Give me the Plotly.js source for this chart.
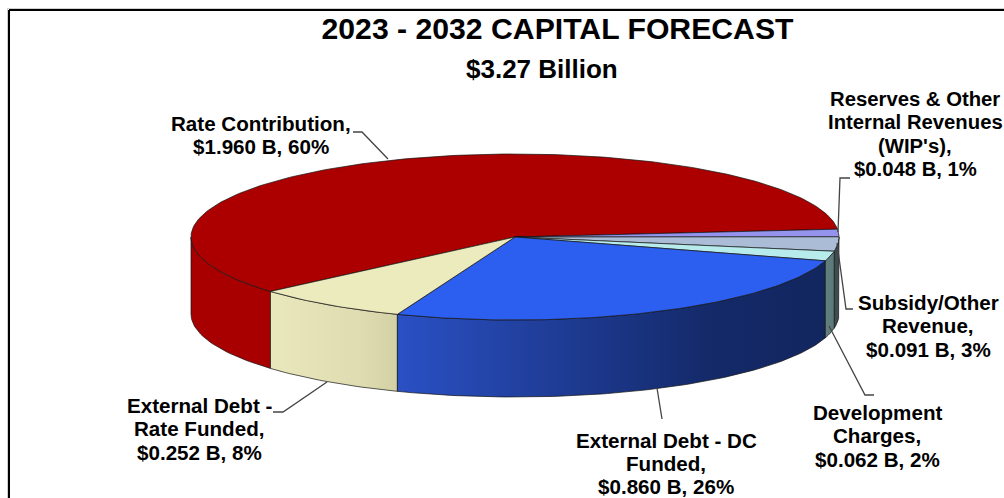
<!DOCTYPE html>
<html><head><meta charset="utf-8">
<script src="https://cdn.plot.ly/plotly-3.0.1.min.js"></script>
<style>html,body{margin:0;padding:0;background:#fff}#c{width:1004px;height:498px}</style>
</head><body><div id="c"></div>
<script>
// Data
const categories = ["External Debt - Rate Funded","External Debt - DC Funded","Development Charges","Subsidy/Other Revenue","Reserves & Other Internal Revenues (WIP's)","Rate Contribution"];
const amounts = [0.252,0.860,0.062,0.091,0.048,1.960];
const labelLines = [
 ["External Debt -","Rate Funded,","$0.252 B, 8%"],
 ["External Debt - DC","Funded,","$0.860 B, 26%"],
 ["Development","Charges,","$0.062 B, 2%"],
 ["Subsidy/Other","Revenue,","$0.091 B, 3%"],
 ["Reserves & Other","Internal Revenues","(WIP's),","$0.048 B, 1%"],
 ["Rate Contribution,","$1.960 B, 60%"]];
const topColors = ["#ecebbd","#2c5ff0","#b8ecec","#aabcd6","#9494ee","#ac0000"];
const sideFrom = ["#e9e8bc","#2a50c4","#627f7f","#3e4c50","#7070b0","#a80000"];
const sideMid = ["#dedcb0","#142a6a","#5d7b7b","#3e4c50","#7070b0","#a80000"];
const sideTo = ["#d2d1a5","#12265e","#5a7878","#3e4c50","#7070b0","#a80000"];
const labelX = [199,666,877,928,915,261];
const labelY = [[405,428,452],[440,463,486],[412,435,459],[302,325,349],[99,122,146,169],[123,146]];
const labelSize = [20.6,20.6,20.6,20.6,20.3,20.6];
const leaderX = [[273,283,327],[662,657],[874,865,829],[853,846,837],[850,840,838],[353,362,388]];
const leaderY = [[412,412,382],[419,388],[395,395,326],[309,309,243],[178,178,232],[132,132,159]];

// Geometry of the tilted disc
const cx=515, cy=237, rx=324, ry=83, depth=77, startDeg=139;

const total = amounts.reduce((a,b)=>a+b,0);
const pt=(d,off=0)=>[cx+rx*Math.cos(d*Math.PI/180), cy+ry*Math.sin(d*Math.PI/180)+off];
function arc(a,b,off){const n=Math.max(2,Math.ceil(Math.abs(b-a)));const o=[];for(let i=0;i<=n;i++)o.push(pt(a+(b-a)*i/n,off));return o;}
const traces=[];
let ang=startDeg; const slices=[];
amounts.forEach((v,i)=>{const sw=v/total*360;slices.push({i,a:ang,b:ang-sw});ang-=sw;});
function poly(points,fill,grad,name){
  const t={type:'scatter',mode:'lines',name,x:points.map(p=>p[0]),y:points.map(p=>p[1]),fill:'toself',
    line:{color:'rgba(20,20,20,0.7)',width:1},hoverinfo:'name',fillcolor:fill};
  if(grad){t.fillgradient={type:'horizontal',colorscale:[[0,grad[0]],[0.72,grad[1]],[1,grad[2]]]};}
  traces.push(t);
}
// side walls: only the part of each slice facing the viewer (0..180 deg)
function wall(s,a,b){
  const top=arc(a,b,0),bot=arc(b,a,depth);
  poly(top.concat(bot,[top[0]]),topColors[s.i],[sideFrom[s.i],sideMid[s.i],sideTo[s.i]],categories[s.i]);
}
wall(slices[5],180,slices[5].b+360);
wall(slices[0],slices[0].a,slices[0].b);
wall(slices[1],slices[1].a,slices[1].b);
wall(slices[3],slices[2].b,0);
wall(slices[2],slices[2].a,slices[2].b);
// top faces
slices.slice().reverse().forEach(s=>{
  const p=[[cx,cy]].concat(arc(s.a,s.b,0),[[cx,cy]]);
  poly(p,topColors[s.i],null,categories[s.i]);
});
// leader lines
leaderX.forEach((xs,i)=>traces.push({type:'scatter',mode:'lines',x:xs,y:leaderY[i],line:{color:'#444',width:1.3},hoverinfo:'skip',showlegend:false}));

const fam='"Liberation Sans",Arial,sans-serif';
const annotations=[];
labelLines.forEach((lines,i)=>lines.forEach((t,j)=>annotations.push({x:labelX[i],y:labelY[i][j],xref:'x',yref:'y',text:'<b>'+t+'</b>',showarrow:false,font:{family:fam,size:labelSize[i],color:'#000'}})));
annotations.push({x:542,y:68.5,xref:'x',yref:'y',text:'<b>$3.27 Billion</b>',showarrow:false,font:{family:fam,size:26,color:'#000'}});
const layout={width:1004,height:498,margin:{l:0,r:0,t:0,b:0},showlegend:false,paper_bgcolor:'#fff',plot_bgcolor:'#fff',
  title:{text:'<b>2023 - 2032 CAPITAL FORECAST</b>',x:557.5/1004,xanchor:'center',y:1-28/498,yanchor:'middle',
    font:{family:fam,size:30.2,color:'#000'}},
  xaxis:{range:[0,1004],visible:false,fixedrange:true},
  yaxis:{range:[498,0],visible:false,fixedrange:true},
  annotations,
  shapes:[
   {type:'line',xref:'x',yref:'y',x0:7,y0:8.5,x1:1004,y1:8.5,line:{color:'#d0d0d0',width:1}},
   {type:'line',xref:'x',yref:'y',x0:7.5,y0:8.5,x1:7.5,y1:498,line:{color:'#d0d0d0',width:1}},
   {type:'line',xref:'x',yref:'y',x0:9,y0:10,x1:1004,y1:10,line:{color:'#000',width:2}},
   {type:'line',xref:'x',yref:'y',x0:9,y0:10,x1:9,y1:498,line:{color:'#000',width:2}}
  ]};
Plotly.newPlot('c',traces,layout,{displayModeBar:false,staticPlot:true});
</script></body></html>
